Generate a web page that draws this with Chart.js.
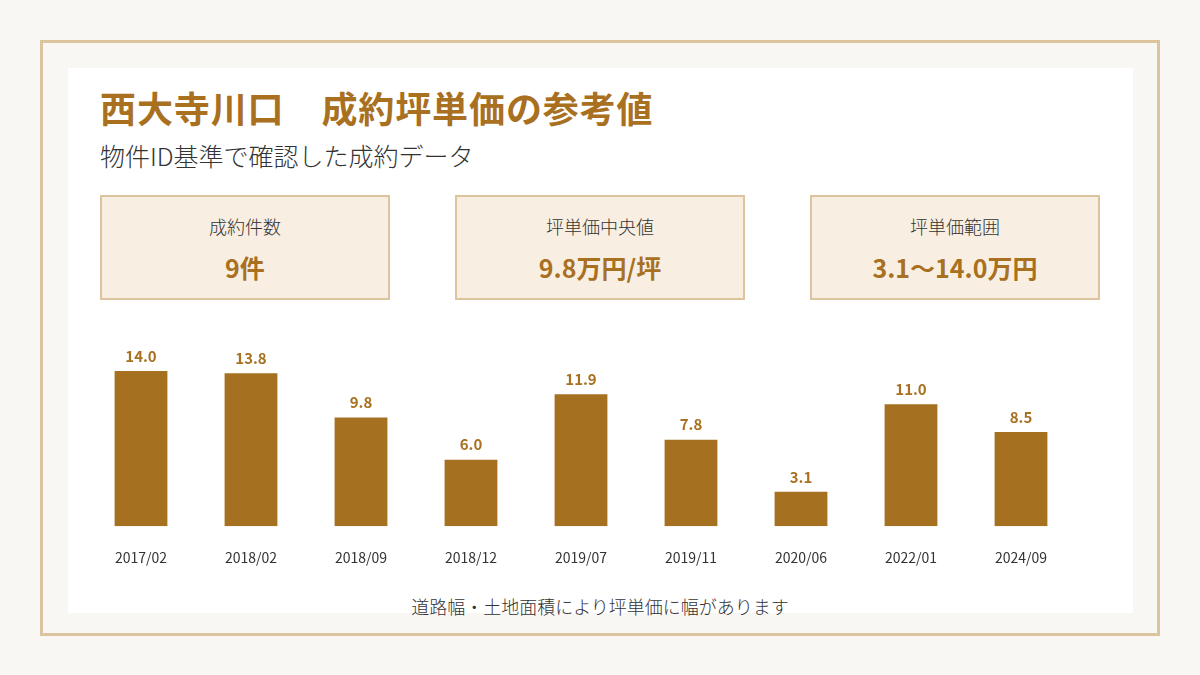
<!DOCTYPE html>
<html lang="ja">
<head>
<meta charset="utf-8">
<script src="https://cdn.jsdelivr.net/npm/chart.js@4/dist/chart.umd.min.js"></script>
<style>
  html, body { margin: 0; padding: 0; }
  body {
    width: 1200px; height: 675px; background: #f9f7f4; position: relative; overflow: hidden;
    font-family: "Noto Sans CJK JP", "Noto Sans", sans-serif; color: #333;
  }
  .frame { position: absolute; left: 40px; top: 40px; width: 1114px; height: 590px; border: 3px solid #dcc59e; }
  .panel { position: absolute; left: 68px; top: 68px; width: 1065px; height: 545px; background: #fff; }
  h1 { position: absolute; left: 100px; top: 84px; margin: 0; font-size: 36px; font-weight: 700; color: #a8701f; line-height: 46px; letter-spacing: 0.9px; }
  .sub { position: absolute; left: 100px; top: 138px; font-size: 25px; line-height: 34px; font-weight: 300; color: #333; }
  .card { position: absolute; top: 195px; width: 286px; height: 101px; background: #f8efe2; border: 2px solid #dcc59e; text-align: center; }
  .card .lab { margin-top: 16px; font-size: 18px; line-height: 26px; font-weight: 300; color: #333; }
  .card .val { margin-top: 12px; font-size: 25px; line-height: 32px; font-weight: 700; color: #a8701f; }
  .chart-wrap { position: absolute; left: 86px; top: 340px; width: 990px; height: 241px; }
  .note { position: absolute; left: 0; width: 1200px; top: 593px; text-align: center; font-size: 18px; line-height: 26px; font-weight: 300; color: #333; }
</style>
</head>
<body>
<div class="frame"></div>
<div class="panel"></div>
<h1>西大寺川口　成約坪単価の参考値</h1>
<div class="sub">物件ID基準で確認した成約データ</div>
<div class="card" style="left:100px"><div class="lab">成約件数</div><div class="val">9件</div></div>
<div class="card" style="left:455px"><div class="lab">坪単価中央値</div><div class="val">9.8万円/坪</div></div>
<div class="card" style="left:810px"><div class="lab">坪単価範囲</div><div class="val">3.1～14.0万円</div></div>
<div class="chart-wrap"><canvas id="priceChart"></canvas></div>
<div class="note">道路幅・土地面積により坪単価に幅があります</div>

<script>
// --- data ---
const contractMonths = ['2017/02', '2018/02', '2018/09', '2018/12', '2019/07', '2019/11', '2020/06', '2022/01', '2024/09'];
const tsuboPrices = [14.0, 13.8, 9.8, 6.0, 11.9, 7.8, 3.1, 11.0, 8.5];

const BRAND = '#a57020';

// value labels above each bar, placed from the bar elements
const barValueLabels = {
    id: 'barValueLabels',
    afterDatasetsDraw(chart) {
        const ctx = chart.ctx;
        const meta = chart.getDatasetMeta(0);
        ctx.save();
        ctx.fillStyle = '#a8701f';
        ctx.font = 'bold 15px "Noto Sans CJK JP", sans-serif';
        ctx.textAlign = 'center';
        ctx.textBaseline = 'middle';
        meta.data.forEach((bar, i) => {
            ctx.fillText(tsuboPrices[i].toFixed(1), bar.x, bar.y - 15);
        });
        ctx.restore();
    }
};

new Chart(document.getElementById('priceChart'), {
    type: 'bar',
    data: {
        labels: contractMonths,
        datasets: [{
            data: tsuboPrices,
            backgroundColor: BRAND,
            barPercentage: 0.48,
            categoryPercentage: 1.0
        }]
    },
    options: {
        responsive: true,
        maintainAspectRatio: false,
        animation: false,
        layout: { padding: 0 },
        plugins: { legend: { display: false }, tooltip: { enabled: false } },
        scales: {
            x: {
                grid: { display: false },
                border: { display: false },
                ticks: { color: '#333', font: { size: 14, family: '"Noto Sans CJK JP", sans-serif' }, padding: 15 }
            },
            y: {
                display: false,
                min: 0,
                max: 16.8
            }
        }
    },
    plugins: [barValueLabels]
});
</script>
</body>
</html>
